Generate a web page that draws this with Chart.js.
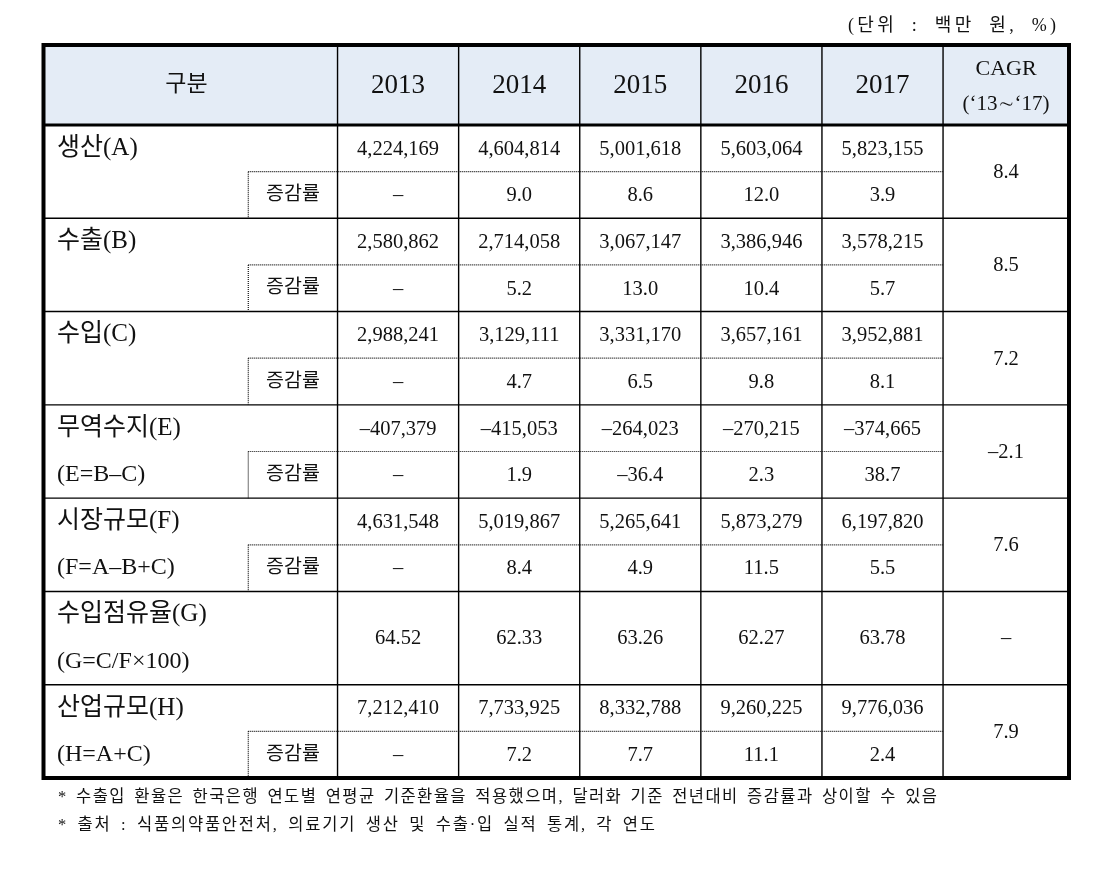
<!DOCTYPE html>
<html lang="ko">
<head>
<meta charset="utf-8">
<title>의료기기 산업규모</title>
<script src="https://cdn.jsdelivr.net/npm/chart.js@4/dist/chart.umd.min.js"></script>
<style>
  html, body { margin: 0; padding: 0; background: #fff; }
  #wrap { width: 1104px; height: 877px; }
</style>
</head>
<body>
<div id="wrap"><canvas id="tableChart" width="1104" height="877"></canvas></div>
<script>
// table data (단위: 백만 원, %)
const years = ['2013', '2014', '2015', '2016', '2017'];
const rowLabels = ['생산(A)', '수출(B)', '수입(C)', '무역수지(E)', '시장규모(F)', '수입점유율(G)', '산업규모(H)'];
const rowFormulas = ['', '', '', '(E=B–C)', '(F=A–B+C)', '(G=C/F×100)', '(H=A+C)'];
const growthLabel = '증감률';

const production = [4224169, 4604814, 5001618, 5603064, 5823155];
const productionGrowth = [null, 9.0, 8.6, 12.0, 3.9];
const exportsVal = [2580862, 2714058, 3067147, 3386946, 3578215];
const exportsGrowth = [null, 5.2, 13.0, 10.4, 5.7];
const importsVal = [2988241, 3129111, 3331170, 3657161, 3952881];
const importsGrowth = [null, 4.7, 6.5, 9.8, 8.1];
const tradeBalance = [-407379, -415053, -264023, -270215, -374665];
const tradeBalanceGrowth = [null, 1.9, -36.4, 2.3, 38.7];
const marketSize = [4631548, 5019867, 5265641, 5873279, 6197820];
const marketSizeGrowth = [null, 8.4, 4.9, 11.5, 5.5];
const importShare = [64.52, 62.33, 63.26, 62.27, 63.78];
const industrySize = [7212410, 7733925, 8332788, 9260225, 9776036];
const industrySizeGrowth = [null, 7.2, 7.7, 11.1, 2.4];
const cagr = [8.4, 8.5, 7.2, -2.1, 7.6, null, 7.9];

const unitNote = '(단위 : 백만 원, %)';
const footnotes = [
  '* 수출입 환율은 한국은행 연도별 연평균 기준환율을 적용했으며, 달러화 기준 전년대비 증감률과 상이할 수 있음',
  '* 출처 : 식품의약품안전처, 의료기기 생산 및 수출·입 실적 통계, 각 연도'
];

const rowValues = [production, exportsVal, importsVal, tradeBalance, marketSize, importShare, industrySize];
const rowGrowth = [productionGrowth, exportsGrowth, importsGrowth, tradeBalanceGrowth, marketSizeGrowth, null, industrySizeGrowth];

// layout in scale units: one year column = 1 x-unit, one sub-row = 1 y-unit
const LABEL_W = 2.428;   // 구분 column width
const SUB_X = 1.691;     // where the 증감률 cell starts
const TOTAL_W = 8.468;
const HEADER_H = 1.715;
const SERIF = "'Liberation Serif', 'Noto Sans CJK KR', serif";
const INK = '#111';

const dash = '–';
function fmtInt(v) {
  if (v == null) return dash;
  const s = Math.abs(v).toLocaleString('en-US');
  return v < 0 ? dash + s : s;
}
function fmtDec(v, d) {
  if (v == null) return dash;
  const s = Math.abs(v).toFixed(d);
  return v < 0 ? dash + s : s;
}

// one scatter dataset per text row; points sit in the cell centres
const datasets = [];
rowValues.forEach((vals, g) => {
  const top = g * 2;
  const isShare = rowGrowth[g] == null;
  datasets.push({
    kind: 'value',
    texts: vals.map(v => isShare ? fmtDec(v, 2) : fmtInt(v)),
    data: vals.map((v, i) => ({ x: LABEL_W + i + 0.5, y: top + (isShare ? 1 : 0.5) }))
  });
  if (!isShare) {
    datasets.push({
      kind: 'growth',
      texts: rowGrowth[g].map(v => fmtDec(v, 1)),
      data: rowGrowth[g].map((v, i) => ({ x: LABEL_W + i + 0.5, y: top + 1.5 }))
    });
  }
  datasets.push({
    kind: 'cagr',
    texts: [fmtDec(cagr[g], 1)],
    data: [{ x: LABEL_W + years.length + (TOTAL_W - LABEL_W - years.length) / 2, y: top + 1 }]
  });
});
datasets.forEach(d => { d.pointRadius = 0; d.pointHoverRadius = 0; d.showLine = false; });

function text(ctx, s, x, y, font, align) {
  ctx.font = font;
  ctx.textAlign = align || 'center';
  ctx.textBaseline = 'middle';
  ctx.fillStyle = INK;
  ctx.fillText(s, x, y);
}

// stretch a line to a given width: a little between letters, more at spaces
function spacedText(ctx, s, x, y, font, width) {
  ctx.font = font;
  ctx.textAlign = 'left';
  ctx.textBaseline = 'middle';
  ctx.fillStyle = INK;
  const chars = Array.from(s);
  const natural = ctx.measureText(s).width;
  let weight = 0;
  chars.forEach((ch, i) => { if (i < chars.length - 1) weight += ch === ' ' ? 3 : 1; });
  const unit = (width - natural) / weight;
  let cx = x;
  chars.forEach(ch => {
    ctx.fillText(ch, cx, y);
    cx += ctx.measureText(ch).width + unit * (ch === ' ' ? 3 : 1);
  });
}

const tablePlugin = {
  id: 'tableGrid',
  beforeDatasetsDraw(chart) {
    const ctx = chart.ctx;
    const xs = chart.scales.x, ys = chart.scales.y;
    const X = v => xs.getPixelForValue(v);
    const Y = v => ys.getPixelForValue(v);
    const nRows = rowValues.length * 2;
    ctx.save();
    // header fill
    ctx.fillStyle = '#e4ecf6';
    ctx.fillRect(X(0), Y(-HEADER_H), X(TOTAL_W) - X(0), Y(0) - Y(-HEADER_H));

    ctx.strokeStyle = '#000';
    ctx.lineWidth = 1.4;
    // vertical column lines
    for (let i = 0; i <= years.length; i++) {
      ctx.beginPath();
      ctx.moveTo(X(LABEL_W + i), Y(-HEADER_H));
      ctx.lineTo(X(LABEL_W + i), Y(nRows));
      ctx.stroke();
    }
    // group separators
    for (let g = 1; g < rowValues.length; g++) {
      ctx.beginPath();
      ctx.moveTo(X(0), Y(g * 2));
      ctx.lineTo(X(TOTAL_W), Y(g * 2));
      ctx.stroke();
    }
    // dotted sub-row lines
    ctx.setLineDash([1, 1]);
    ctx.strokeStyle = '#111';
    ctx.lineWidth = 1.2;
    rowGrowth.forEach((gr, g) => {
      if (!gr) return;
      const mid = g * 2 + 1;
      ctx.beginPath();
      ctx.moveTo(X(SUB_X), Y(mid));
      ctx.lineTo(X(LABEL_W + years.length), Y(mid));
      ctx.moveTo(X(SUB_X), Y(mid));
      ctx.lineTo(X(SUB_X), Y(mid + 1));
      ctx.stroke();
    });
    ctx.setLineDash([]);
    // header bottom
    ctx.strokeStyle = '#000';
    ctx.lineWidth = 3;
    ctx.beginPath();
    ctx.moveTo(X(0), Y(0));
    ctx.lineTo(X(TOTAL_W), Y(0));
    ctx.stroke();
    ctx.restore();
  },
  afterDatasetsDraw(chart) {
    const ctx = chart.ctx;
    const xs = chart.scales.x, ys = chart.scales.y;
    const X = v => xs.getPixelForValue(v);
    const Y = v => ys.getPixelForValue(v);
    const nRows = rowValues.length * 2;
    ctx.save();

    // cell values, placed at the scatter points
    chart.data.datasets.forEach((ds, i) => {
      const meta = chart.getDatasetMeta(i);
      meta.data.forEach((pt, j) => {
        text(ctx, ds.texts[j], pt.x, pt.y + 1, '20.5px ' + SERIF);
      });
    });

    // header
    const hy = Y(-HEADER_H / 2);
    text(ctx, '구분', X(LABEL_W / 2) - 4, hy, '23px ' + SERIF);
    years.forEach((yr, i) => text(ctx, yr, X(LABEL_W + i + 0.5), hy + 1, '27px ' + SERIF));
    const cx = X((LABEL_W + years.length + TOTAL_W) / 2);
    text(ctx, 'CAGR', cx, Y(-HEADER_H) + 24, '22px ' + SERIF);
    text(ctx, '(‘13∼‘17)', cx, Y(-HEADER_H) + 59, '21px ' + SERIF);

    // row labels
    const lx = X(0) + 13.5;
    rowLabels.forEach((lab, g) => {
      text(ctx, lab, lx, Y(g * 2 + 0.5), '25px ' + SERIF, 'left');
      if (rowFormulas[g]) text(ctx, rowFormulas[g], lx, Y(g * 2 + 1.5), '24px ' + SERIF, 'left');
      if (rowGrowth[g]) text(ctx, growthLabel, X((SUB_X + LABEL_W) / 2), Y(g * 2 + 1.5), '19.5px ' + SERIF);
    });

    // outer frame
    ctx.strokeStyle = '#000';
    ctx.lineWidth = 4;
    ctx.strokeRect(X(0), Y(-HEADER_H), X(TOTAL_W) - X(0), Y(nRows) - Y(-HEADER_H));

    // unit note and footnotes
    spacedText(ctx, unitNote, X(TOTAL_W) - 13 - 208, Y(-HEADER_H) - 19, '18px ' + SERIF, 208);
    spacedText(ctx, footnotes[0], X(0) + 14.5, Y(nRows) + 20, '16.5px ' + SERIF, 879);
    spacedText(ctx, footnotes[1], X(0) + 14.5, Y(nRows) + 48, '16.5px ' + SERIF, 597);
    ctx.restore();
  }
};

new Chart(document.getElementById('tableChart'), {
  type: 'scatter',
  data: { datasets },
  options: {
    responsive: false,
    animation: false,
    events: [],
    layout: { padding: { left: 43.5, right: 35, top: 45, bottom: 99 } },
    scales: {
      x: { type: 'linear', display: false, min: 0, max: TOTAL_W },
      y: { type: 'linear', display: false, min: -HEADER_H, max: rowValues.length * 2, reverse: true }
    },
    plugins: { legend: { display: false }, tooltip: { enabled: false } }
  },
  plugins: [tablePlugin]
});
</script>
</body>
</html>
